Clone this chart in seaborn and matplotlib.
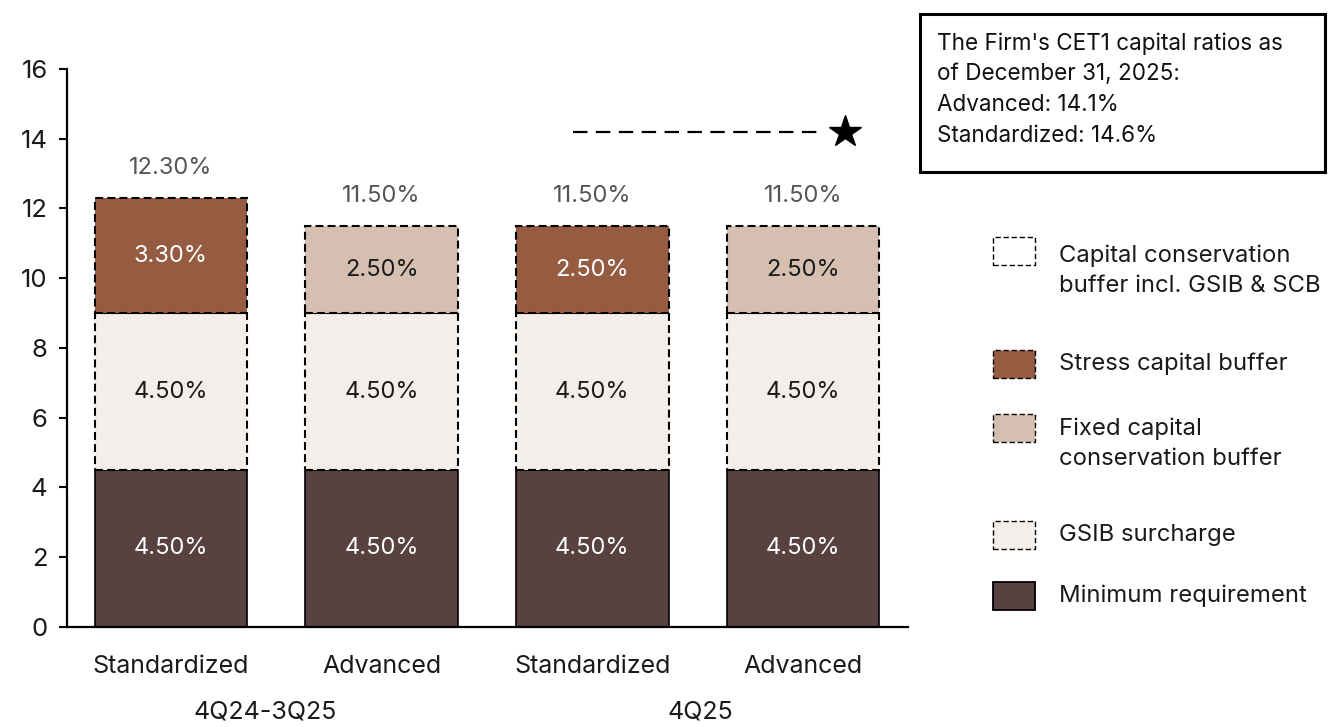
import matplotlib
matplotlib.use("Agg")
import matplotlib.pyplot as plt
from matplotlib.patches import Rectangle
import seaborn as sns

# ---------------- data ----------------
bar_ids = ["S_2024", "A_2024", "S_2025", "A_2025"]
categories = ["Standardized", "Advanced", "Standardized", "Advanced"]
groups = ["4Q24-3Q25", "4Q25"]
minimum_req = [4.5, 4.5, 4.5, 4.5]
gsib_surcharge = [4.5, 4.5, 4.5, 4.5]
stress_buffer = [3.3, 0.0, 2.5, 0.0]
fixed_ccb = [0.0, 2.5, 0.0, 2.5]
totals = [12.3, 11.5, 11.5, 11.5]
firm_cet1_marker = 14.2
y_ticks = [0, 2, 4, 6, 8, 10, 12, 14, 16]
legend_labels = ["Capital conservation\nbuffer incl. GSIB & SCB", "Stress capital buffer",
                 "Fixed capital\nconservation buffer", "GSIB surcharge", "Minimum requirement"]
note_lines = ["The Firm's CET1 capital ratios as", "of December 31, 2025:",
              "Advanced: 14.1%", "Standardized: 14.6%"]

C_MIN = "#574240"
C_GSIB = "#F3EEE9"
C_SCB = "#955C42"
C_FIX = "#D4BFB0"
TXT = "#1a1a1a"

sns.set_theme(style="white")
plt.rcParams["font.family"] = ["Inter", "DejaVu Sans"]

fig = plt.figure(figsize=(13.3, 7.27), dpi=100)
ax = fig.add_axes([0.0504, 0.1376, 0.6326, 0.7675])

dash = (0, (3.8, 2.0))
layers = [
    (minimum_req, C_MIN, "solid", "white"),
    (gsib_surcharge, C_GSIB, dash, TXT),
    (stress_buffer, C_SCB, dash, "white"),
    (fixed_ccb, C_FIX, dash, TXT),
]
bottoms = [0.0] * 4
for values, color, ls, tcolor in layers:
    sns.barplot(x=bar_ids, y=values, order=bar_ids, color=color, width=0.725,
                edgecolor="black", linewidth=1.5 if ls != "solid" else 1.2,
                linestyle=ls, saturation=1, ax=ax)
    cont = ax.containers[-1]
    labels = []
    for i, patch in enumerate(cont.patches):
        patch.set_y(bottoms[i])
        if values[i] == 0:
            patch.set_visible(False)
            labels.append("")
        else:
            labels.append(f"{values[i]:.2f}%")
    ax.bar_label(cont, labels=labels, label_type="center", color=tcolor, fontsize=17)
    bottoms = [b + v for b, v in zip(bottoms, values)]

for i, t in enumerate(totals):
    ax.text(i, t + 0.85, f"{t:.2f}%", ha="center", va="center", color="#555555", fontsize=17)

# firm CET1 marker line with star
ax.plot([1.91, 3.09], [firm_cet1_marker] * 2, color="black", lw=1.6, dashes=(6.5, 3.8))
ax.plot([3.2], [firm_cet1_marker], marker="*", color="black", markersize=24, lw=0)

ax.set_xlim(-0.493, 3.5)
ax.set_ylim(0, 16)
ax.set_yticks(y_ticks)
ax.set_yticklabels([str(v) for v in y_ticks])
ax.set_xticks(range(4))
ax.set_xticklabels(categories)
ax.set_xlabel("")
ax.set_ylabel("")
for s in ["top", "right"]:
    ax.spines[s].set_visible(False)
for s in ["left", "bottom"]:
    ax.spines[s].set_color("black")
    ax.spines[s].set_linewidth(1.6)
ax.tick_params(axis="y", length=6, width=1.5, color="black", direction="out",
               labelsize=18.5, labelcolor=TXT, left=True, pad=8)
ax.tick_params(axis="x", length=0, labelsize=18, labelcolor=TXT, pad=20)

# group labels
fig.text(265 / 1330, 0.005, groups[0], ha="center", va="bottom", fontsize=18, color=TXT)
fig.text(700 / 1330, 0.005, groups[1], ha="center", va="bottom", fontsize=18, color=TXT)

# note box
W, H = 1330, 727
fig.add_artist(Rectangle((920 / W, 1 - 172 / H), 405 / W, 158 / H, transform=fig.transFigure,
                         facecolor="white", edgecolor="black", lw=2.2))
for k, line in enumerate(note_lines):
    fig.text(937 / W, 1 - (44 + k * 30.5) / H, line, ha="left", va="center",
             fontsize=16.2, color="#111111")

# legend (manual)
leg_colors = ["white", C_SCB, C_FIX, C_GSIB, C_MIN]
leg_styles = [dash, dash, dash, dash, "solid"]
leg_y = [251, 364, 428, 535, 596]
leg_text_y = [271, 364, 444, 535, 596]
for lab, col, ls, py, ty in zip(legend_labels, leg_colors, leg_styles, leg_y, leg_text_y):
    fig.add_artist(Rectangle((993 / W, 1 - (py + 14) / H), 42 / W, 28 / H,
                             transform=fig.transFigure, facecolor=col, edgecolor="black",
                             lw=1.0 if ls != "solid" else 1.3, linestyle=ls))
    fig.text(1059 / W, 1 - ty / H, lab, ha="left", va="center", fontsize=17.2,
             color=TXT, linespacing=1.45)

fig.savefig("out.png", dpi=100)
